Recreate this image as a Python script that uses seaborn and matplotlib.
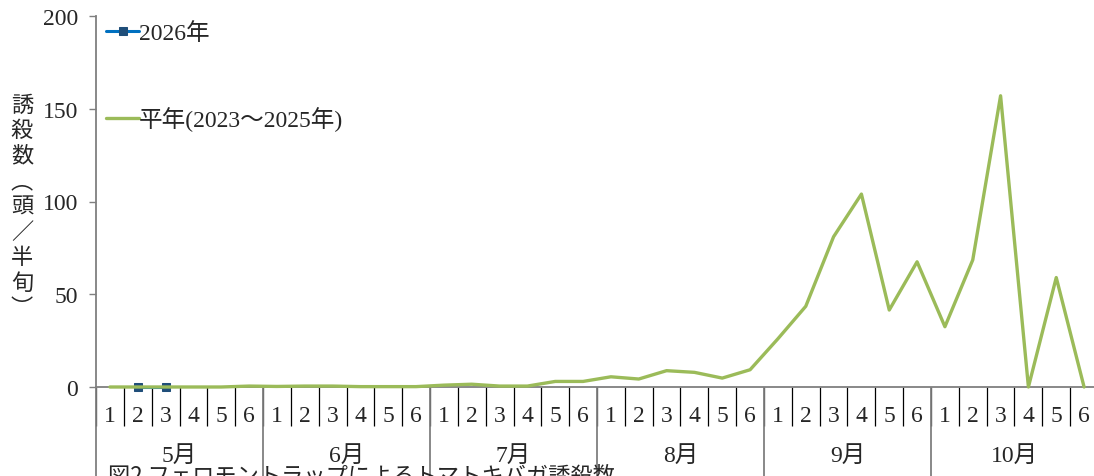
import numpy as np
import pandas as pd
import seaborn as sns
import matplotlib.pyplot as plt
from matplotlib import transforms

# half-month (半旬) periods, May - October
months = ['5月', '6月', '7月', '8月', '9月', '10月']
half_labels = ['1', '2', '3', '4', '5', '6'] * len(months)

# 平年 (2023-2025 average)
normal_vals = [0, 0, 0, 0, 0, 0.5,
               0.3, 0.5, 0.5, 0.2, 0.2, 0.2,
               1, 1.5, 0.5, 0.5, 3, 3,
               5.5, 4.3, 8.8, 7.9, 4.8, 9.3,
               26, 43.5, 81, 104, 41.5, 67.5,
               32.5, 68.5, 157, 0, 59, 0]
# 2026 (only two periods observed so far)
y2026_idx = [1, 2]
y2026_vals = [0, 0]

green = '#9BBB59'
blue_line = '#0070C0'
blue_mark = '#1F4E79'
axis_gray = '#7F7F7F'

df_normal = pd.DataFrame({'period': np.arange(len(normal_vals)), 'count': normal_vals})
df_2026 = pd.DataFrame({'period': y2026_idx, 'count': y2026_vals})

sns.set_style('white')
plt.rcParams['font.family'] = ['Liberation Serif', 'Noto Sans CJK JP', 'DejaVu Sans']

fig = plt.figure(figsize=(10.94, 4.77), dpi=100)
W, H = 1094, 477
ax = fig.add_axes([96 / W, 1 - 388 / H, 1002 / W, (388 - 17) / H])

sns.lineplot(data=df_2026, x='period', y='count', ax=ax, color=blue_line, lw=2.2,
             marker='s', markersize=5.5, markerfacecolor=blue_mark, markeredgecolor=blue_mark,
             label='2026年', zorder=4, clip_on=False)
sns.lineplot(data=df_normal, x='period', y='count', ax=ax, color=green, lw=2.4,
             label='平年(2023～2025年)', zorder=5, clip_on=False)

n = len(normal_vals)
ax.set_xlim(-0.5, n - 0.5)
ax.set_ylim(0, 200)
ax.set_yticks([0, 50, 100, 150, 200])
ax.tick_params(axis='y', left=True, labelsize=17, length=5, width=1.0, color=axis_gray,
               direction='out', pad=8)

# half-month labels at centres, separators at boundaries
ax.set_xticks(np.arange(n))
ax.set_xticklabels(half_labels)
ax.set_xticks(np.arange(n + 1) - 0.5, minor=True)
ax.tick_params(axis='x', which='both', bottom=True)
ax.tick_params(axis='x', which='major', length=0, labelsize=17, pad=13)
ax.tick_params(axis='x', which='minor', length=28, width=0.9, color='black', direction='out')

for s in ['top', 'right']:
    ax.spines[s].set_visible(False)
for s in ['left', 'bottom']:
    ax.spines[s].set_color(axis_gray)
    ax.spines[s].set_linewidth(1.3)
ax.set_xlabel('')
ax.set_ylabel('')

# month separators and month labels
trans = transforms.blended_transform_factory(ax.transData, ax.transAxes)
bounds = np.arange(0, n + 1, 6) - 0.5
ax.vlines(bounds, -0.3, 0, transform=trans, colors=axis_gray, lw=1.3, clip_on=False)
for i, m in enumerate(months):
    ax.text(i * 6 + 2.5, -0.185, m, transform=trans, ha='center', va='center', fontsize=17)

# legend
ax.legend(loc='upper left', bbox_to_anchor=(106 / W, 1 - 23 / H), bbox_transform=fig.transFigure,
          frameon=False, fontsize=17, labelspacing=2.65, handlelength=1.4, handletextpad=0.0,
          borderpad=0, borderaxespad=0)

# vertical y-axis label
fig.text(22 / W, 1 - 207 / H, '誘\n殺\n数\n︵\n頭\n／\n半\n旬\n︶', ha='center', va='center',
         fontsize=16, linespacing=1.13, family=['Noto Sans CJK JP', 'DejaVu Sans'])

# figure caption, cut off at the bottom edge
fig.text(108 / W, 1 - 465 / H, '図2 フェロモントラップによるトマトキバガ誘殺数', ha='left', va='top',
         fontsize=16, family=['Noto Sans CJK JP', 'DejaVu Sans'])

fig.savefig('out.png', dpi=100)
